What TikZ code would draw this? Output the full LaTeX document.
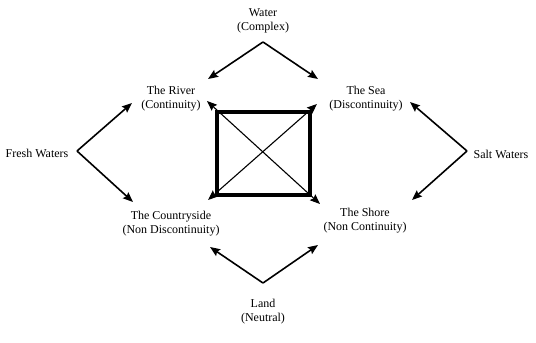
\documentclass[tikz,border=0pt]{standalone}
\usepackage{fontspec}
\setmainfont{Liberation Serif}
\usetikzlibrary{arrows.meta}

\begin{document}
\begin{tikzpicture}[x=1pt,y=-1pt,>={Stealth[length=10pt,width=8pt,inset=1.5pt]},
  font=\fontsize{12}{14}\selectfont,
  lbl/.style={align=center,inner sep=0pt},
  arr/.style={->,line width=1.6pt}]
\useasboundingbox (0,0) rectangle (536,343);
% the eight terms
\node[lbl] (water) at (263,21) {Water\\(Complex)};
\node[lbl] (river) at (171,99) {The River\\(Continuity)};
\node[lbl] (sea) at (366,99) {The Sea\\(Discontinuity)};
\node[lbl] (fresh) at (37,153) {Fresh Waters};
\node[lbl] (salt) at (501,154) {Salt Waters};
\node[lbl] (country) at (171,224) {The Countryside\\(Non Discontinuity)};
\node[lbl] (shore) at (365,221) {The Shore\\(Non Continuity)};
\node[lbl] (land) at (263,312) {Land\\(Neutral)};
% apexes of the V-shaped arrows and their tips
\coordinate (wapex) at (263,42);\coordinate (lapex) at (263,283);
\coordinate (fapex) at (77,151);\coordinate (sapex) at (467,151);
\coordinate (rv-a) at (208,79);\coordinate (se-a) at (318,79);
\coordinate (rv-b) at (132,103);\coordinate (co-b) at (133,202);
\coordinate (se-b) at (410,102);\coordinate (sh-b) at (412,200);
\coordinate (co-a) at (210,247);\coordinate (sh-a) at (318,245);
\coordinate (rv-c) at (207,101);\coordinate (sh-c) at (320,204);
\coordinate (co-c) at (208,200);\coordinate (se-c) at (317,104);
\draw[arr] (wapex) -- (rv-a);\draw[arr] (wapex) -- (se-a);
\draw[arr] (fapex) -- (rv-b);\draw[arr] (fapex) -- (co-b);
\draw[arr] (sapex) -- (se-b);\draw[arr] (sapex) -- (sh-b);
\draw[arr] (lapex) -- (co-a);\draw[arr] (lapex) -- (sh-a);
% the square and its diagonals
\draw[line width=3.5pt] (217,112) rectangle (310,195);
\draw[<->,line width=1.1pt] (rv-c) -- (sh-c);
\draw[<->,line width=1.1pt] (co-c) -- (se-c);
\end{tikzpicture}
\end{document}
